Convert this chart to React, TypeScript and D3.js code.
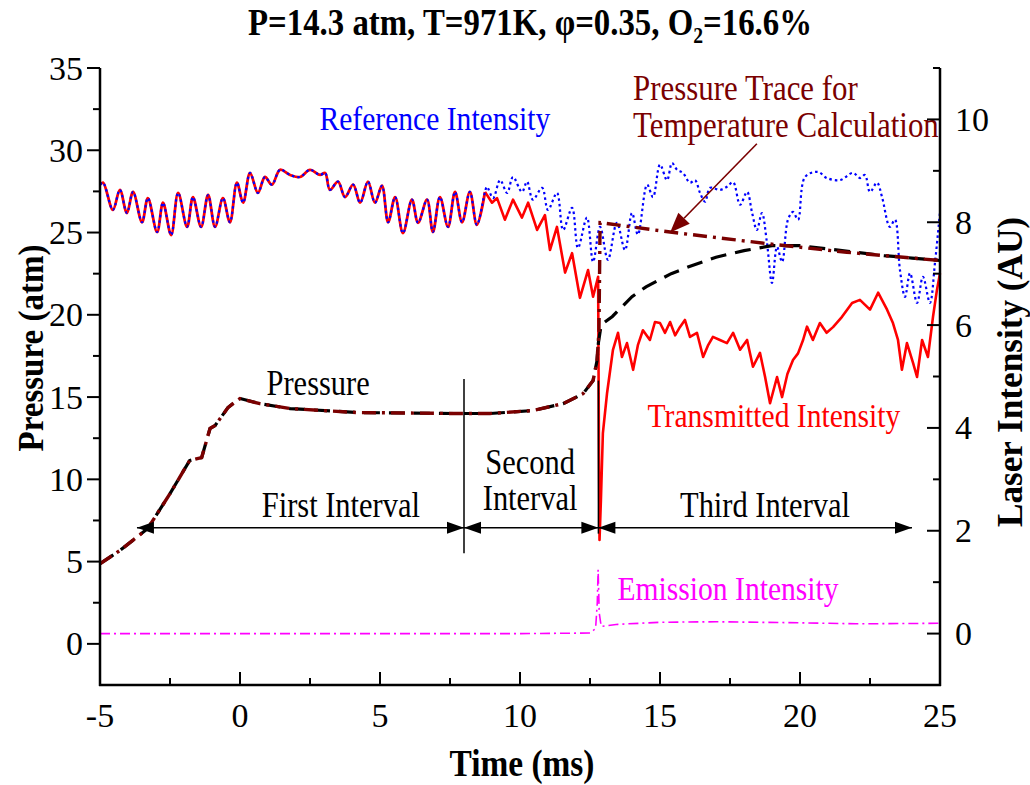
import React from 'react';
import * as d3 from 'd3';

// ---------------- DATA ----------------
// Laser intensity (AU) shared by reference and transmitted signals before they diverge
const sharedTime = [-5, -4.89, -4.54, -4.29, -4.04, -3.82, -3.5, -3.29, -2.96, -2.75, -2.46, -2.21, -1.89, -1.68, -1.39, -1.14, -0.89, -0.61, -0.36, -0.11, 0.11, 0.36, 0.64, 0.89, 1.14, 1.43, 1.79, 2.14, 2.5, 2.86, 3.04, 3.21, 3.5, 3.75, 4.04, 4.29, 4.57, 4.82, 5.07, 5.29, 5.54, 5.82, 6.14, 6.36, 6.68, 6.89, 7.14, 7.43, 7.68, 7.93, 8.21, 8.46, 8.75];
const sharedIntensity = [8.73, 8.77, 8.24, 8.63, 8.18, 8.59, 8.0, 8.47, 7.81, 8.38, 7.75, 8.57, 7.91, 8.49, 7.91, 8.53, 7.91, 8.47, 8.0, 8.77, 8.38, 8.96, 8.57, 8.88, 8.73, 9.02, 8.92, 8.88, 9.02, 8.92, 8.96, 8.63, 8.79, 8.49, 8.73, 8.38, 8.79, 8.38, 8.71, 8.0, 8.49, 7.79, 8.44, 7.99, 8.44, 7.81, 8.49, 7.91, 8.59, 8.0, 8.59, 7.95, 8.59];

// Transmitted intensity after divergence
const transmittedTime = [8.75, 9.0, 9.18, 9.46, 9.75, 10.07, 10.29, 10.61, 10.89, 11.07, 11.32, 11.61, 11.86, 12.14, 12.43, 12.61, 12.79, 12.82, 12.84, 12.89, 12.96, 13.11, 13.32, 13.5, 13.64, 13.82, 14.04, 14.21, 14.39, 14.64, 14.82, 15.0, 15.18, 15.36, 15.54, 15.71, 15.89, 16.07, 16.32, 16.54, 16.71, 16.89, 17.14, 17.39, 17.61, 17.86, 18.11, 18.32, 18.57, 18.75, 18.93, 19.18, 19.36, 19.55, 19.75, 19.93, 20.11, 20.25, 20.46, 20.71, 20.95, 21.18, 21.5, 21.86, 22.14, 22.5, 22.79, 23.11, 23.32, 23.5, 23.64, 23.82, 24.04, 24.18, 24.36, 24.57, 24.75, 24.89, 25.0];
const transmittedIntensity = [8.59, 8.38, 8.47, 8.05, 8.44, 8.09, 8.38, 7.85, 8.14, 7.46, 7.91, 7.02, 7.4, 6.53, 7.07, 6.55, 6.94, 3.57, 1.82, 2.6, 3.9, 4.68, 5.52, 5.85, 5.38, 5.65, 5.13, 5.61, 5.9, 5.71, 6.06, 6.04, 5.85, 6.06, 5.8, 5.96, 6.1, 5.77, 5.85, 5.38, 5.6, 5.77, 5.71, 5.65, 5.85, 5.52, 5.71, 5.19, 5.46, 5.0, 4.48, 4.99, 4.6, 5.05, 5.32, 5.45, 5.71, 5.97, 5.71, 6.04, 5.85, 5.96, 6.16, 6.43, 6.49, 6.3, 6.63, 6.3, 6.04, 5.71, 5.13, 5.65, 5.26, 4.99, 5.71, 5.38, 6.16, 6.68, 7.01];

// Reference intensity after divergence
const referenceTime = [8.82, 9.04, 9.29, 9.54, 9.75, 10.07, 10.25, 10.46, 10.79, 11.0, 11.32, 11.54, 11.86, 12.07, 12.39, 12.61, 12.86, 13.14, 13.46, 13.75, 14.0, 14.21, 14.54, 14.75, 15.0, 15.25, 15.43, 15.61, 15.82, 16.07, 16.25, 16.43, 16.61, 16.79, 17.14, 17.39, 17.61, 17.86, 18.11, 18.29, 18.46, 18.64, 18.82, 19.0, 19.18, 19.36, 19.57, 19.75, 19.93, 20.18, 20.64, 20.96, 21.43, 21.89, 22.14, 22.32, 22.5, 22.75, 22.93, 23.21, 23.39, 23.57, 23.75, 23.93, 24.18, 24.39, 24.64, 24.82, 25.0];
const referenceIntensity = [8.69, 8.47, 8.82, 8.57, 8.88, 8.59, 8.79, 8.44, 8.67, 8.24, 8.57, 7.85, 8.28, 7.5, 8.09, 7.23, 7.91, 7.27, 7.99, 7.46, 8.18, 7.76, 8.73, 8.49, 9.12, 8.82, 9.15, 9.02, 8.96, 8.77, 8.82, 8.57, 8.4, 8.67, 8.63, 8.69, 8.78, 8.34, 8.59, 8.18, 7.85, 8.18, 7.6, 6.82, 7.52, 7.23, 8.05, 8.2, 8.05, 8.88, 8.98, 8.86, 8.82, 8.96, 8.86, 8.92, 8.59, 8.77, 8.49, 7.91, 8.05, 7.07, 6.55, 7.01, 6.43, 6.94, 6.43, 7.21, 8.2];

// Emission intensity (AU)
const emissionTime = [-5, 0, 5, 10, 12.5, 12.7, 12.76, 12.79, 12.83, 12.9, 13.5, 15, 17, 20, 22, 25];
const emissionIntensity = [0.0, 0.0, 0.0, 0.0, 0.01, 0.1, 0.6, 1.24, 0.4, 0.14, 0.18, 0.22, 0.23, 0.21, 0.19, 0.2];

// Measured pressure (atm)
const pressureTime = [-5, -4.3, -3.3, -2.5, -1.8, -1.37, -1.07, -0.89, -0.43, -0.11, 0, 0.71, 1.79, 4.18, 7.75, 8.93, 10.46, 11.54, 12.25, 12.61, 12.75, 12.8, 12.9, 13.3, 14.0, 14.5, 15.4, 16.0, 17.0, 18.0, 19.0, 20.0, 21.0, 22.0, 23.0, 24.0, 25.0];
const pressureMeasured = [4.87, 5.66, 7.0, 9.13, 11.14, 11.32, 13.09, 13.27, 14.36, 14.79, 14.91, 14.6, 14.3, 14.06, 14.0, 14.0, 14.18, 14.6, 15.2, 16.0, 17.2, 18.3, 19.4, 19.9, 21.1, 21.7, 22.5, 22.9, 23.5, 23.9, 24.2, 24.2, 24.0, 23.8, 23.6, 23.45, 23.3];

// Pressure trace for temperature calculation (atm)
const calcTime = [-5, -4.3, -3.3, -2.5, -1.8, -1.37, -1.07, -0.89, -0.43, -0.11, 0, 0.71, 1.79, 4.18, 7.75, 8.93, 10.46, 11.54, 12.25, 12.61, 12.75, 12.82, 12.86, 15.36, 18.8, 21.67, 25.0];
const pressureCalc = [4.87, 5.66, 7.0, 9.13, 11.14, 11.32, 13.09, 13.27, 14.36, 14.79, 14.91, 14.6, 14.3, 14.06, 14.0, 14.0, 14.18, 14.6, 15.2, 16.0, 17.2, 19.0, 25.6, 25.03, 24.33, 23.8, 23.3];

// Axes ticks
const xTicks = [-5, 0, 5, 10, 15, 20, 25];
const xMinor = [-2.5, 2.5, 7.5, 12.5, 17.5, 22.5];
const leftTicks = [0, 5, 10, 15, 20, 25, 30, 35];
const leftMinor = [2.5, 7.5, 12.5, 17.5, 22.5, 27.5, 32.5];
const rightTicks = [0, 2, 4, 6, 8, 10];
const rightMinor = [-1, 1, 3, 5, 7, 9, 11];

// Interval boundaries (ms)
const intervalStart = -3.68;
const intervalB1 = 8.0;
const intervalB2 = 12.8;
const intervalEnd = 24.0;

const FONT = "'Liberation Serif','Times New Roman',Times,serif";

const zip = (a: number[], b: number[]) => a.map((v, i) => [v, b[i]] as [number, number]);

// horizontally condensed text (the reference's serif text is slightly narrow)
function SText(props: { x: number; y: number; size: number; sx?: number; anchor?: string; fill?: string; children: React.ReactNode }) {
  const { x, y, size, sx = 0.87, anchor = 'middle', fill = '#000', children } = props;
  return (
    <g transform={`translate(${x},${y}) scale(${sx},1)`}>
      <text x={0} y={0} fontSize={size} textAnchor={anchor as any} fill={fill}>{children}</text>
    </g>
  );
}

export default function App() {
  const L = 100, R = 940, T = 68, B = 685;
  const x = d3.scaleLinear().domain([-5, 25]).range([L, R]);
  const yL = d3.scaleLinear().domain([-2.5, 35]).range([B, T]);
  const yR = d3.scaleLinear().domain([-1, 11]).range([B, T]);

  const lineL = d3.line<[number, number]>().x(d => x(d[0])).y(d => yL(d[1]));
  const lineR = d3.line<[number, number]>().x(d => x(d[0])).y(d => yR(d[1]));
  const lineRSmooth = d3.line<[number, number]>().x(d => x(d[0])).y(d => yR(d[1])).curve(d3.curveCatmullRom.alpha(0.5));

  const shared = zip(sharedTime, sharedIntensity);
  const transmittedLate = zip(transmittedTime, transmittedIntensity);
  const reference = [...shared, ...zip(referenceTime, referenceIntensity)];
  const emission = zip(emissionTime, emissionIntensity);
  const measured = zip(pressureTime, pressureMeasured);
  const calc = zip(calcTime, pressureCalc);

  const arrowY = yL(7.05);
  const head = (tx: number, ty: number, dir: number, len = 17, hw = 6) =>
    `${tx},${ty} ${tx - dir * len},${ty - hw} ${tx - dir * len},${ty + hw}`;

  // pointer arrow for the calculation trace
  const p0 = [x(18.46), yL(30.4)];
  const p1 = [x(15.36), yL(25.0)];
  const ang = Math.atan2(p1[1] - p0[1], p1[0] - p0[0]);
  const hl = 20, hwid = 8;
  const bx = p1[0] - hl * Math.cos(ang), by = p1[1] - hl * Math.sin(ang);
  const ptrHead = `${p1[0]},${p1[1]} ${bx + hwid * Math.sin(ang)},${by - hwid * Math.cos(ang)} ${bx - hwid * Math.sin(ang)},${by + hwid * Math.cos(ang)}`;

  return (
    <svg width={1030} height={785} style={{ position: 'absolute', left: 0, top: 0, background: '#fff' }} fontFamily={FONT}>
      <rect x={0} y={0} width={1030} height={785} fill="#fff" />
      {/* Title */}
      <text x={530} y={35} textAnchor="middle" fontSize={38} fontWeight="bold" textLength={564} lengthAdjust="spacingAndGlyphs">
        {'P=14.3 atm, T=971K, \u03C6=0.35, O\u2082=16.6%'}
      </text>

      {/* Data lines */}
      <path d={lineR(emission) || ''} fill="none" stroke="#ff00ff" strokeWidth={1.6} strokeDasharray="10,4,2,4" />
      <path d={lineRSmooth(shared) || ''} fill="none" stroke="#ff0000" strokeWidth={2.8} strokeLinejoin="round" />
      <path d={lineR(transmittedLate) || ''} fill="none" stroke="#ff0000" strokeWidth={2.6} strokeLinejoin="round" />
      <path d={lineRSmooth(reference) || ''} fill="none" stroke="#0000ff" strokeWidth={2.2} strokeDasharray="2.5,3" />
      <path d={lineL(measured) || ''} fill="none" stroke="#000" strokeWidth={3.2} strokeDasharray="16,9" />
      <path d={lineL(calc) || ''} fill="none" stroke="#7a0000" strokeWidth={3.4} strokeDasharray="14,6,3,6" />

      {/* Interval markers */}
      <line x1={x(intervalB1)} x2={x(intervalB1)} y1={yL(16.1)} y2={yL(5.5)} stroke="#000" strokeWidth={1.5} />
      <line x1={x(intervalB2)} x2={x(intervalB2)} y1={yL(16.0)} y2={yL(6.7)} stroke="#000" strokeWidth={1.5} />
      <line x1={x(intervalStart)} x2={x(intervalEnd)} y1={arrowY} y2={arrowY} stroke="#000" strokeWidth={1.5} />
      <polygon points={head(x(intervalStart), arrowY, -1)} fill="#000" />
      <polygon points={head(x(intervalB1), arrowY, 1)} fill="#000" />
      <polygon points={head(x(intervalB1), arrowY, -1)} fill="#000" />
      <polygon points={head(x(intervalB2), arrowY, 1)} fill="#000" />
      <polygon points={head(x(intervalB2), arrowY, -1)} fill="#000" />
      <polygon points={head(x(intervalEnd), arrowY, 1)} fill="#000" />

      {/* Pointer arrow */}
      <line x1={p0[0]} y1={p0[1]} x2={bx} y2={by} stroke="#7a0000" strokeWidth={1.6} />
      <polygon points={ptrHead} fill="#7a0000" />

      {/* Annotations */}
      <SText x={x(2.79)} y={yL(15.1)} size={35}>Pressure</SText>
      <SText x={x(3.6)} y={yL(7.73)} size={35}>First Interval</SText>
      <SText x={x(10.36)} y={yL(10.35)} size={35}>Second</SText>
      <SText x={x(10.36)} y={yL(8.16)} size={35}>Interval</SText>
      <SText x={x(18.75)} y={yL(7.73)} size={35}>Third Interval</SText>
      <SText x={x(6.96)} y={yR(9.8)} size={34} fill="#0000ff">Reference Intensity</SText>
      <SText x={x(19.07)} y={yR(4.01)} size={34} fill="#ff0000">Transmitted Intensity</SText>
      <SText x={x(17.43)} y={yR(0.65)} size={34} fill="#ff00ff">Emission Intensity</SText>
      <SText x={x(14.04)} y={100} size={35.5} anchor="start" fill="#7a0000">Pressure Trace for</SText>
      <SText x={x(14.04)} y={137} size={35.5} anchor="start" fill="#7a0000">Temperature Calculation</SText>

      {/* Axes */}
      <g stroke="#000" strokeWidth={2.5}>
        <line x1={L} x2={L} y1={T} y2={B + 1} />
        <line x1={R} x2={R} y1={T} y2={B + 1} />
        <line x1={L - 1} x2={R + 1} y1={B} y2={B} />
      </g>
      <g stroke="#000" strokeWidth={2}>
        {xTicks.map(t => <line key={'xt' + t} x1={x(t)} x2={x(t)} y1={B} y2={B - 13} />)}
        {xMinor.map(t => <line key={'xm' + t} x1={x(t)} x2={x(t)} y1={B} y2={B - 7} />)}
        {leftTicks.map(t => <line key={'lt' + t} x1={L} x2={L - 13} y1={yL(t)} y2={yL(t)} />)}
        {leftMinor.map(t => <line key={'lm' + t} x1={L} x2={L - 7} y1={yL(t)} y2={yL(t)} />)}
        {rightTicks.map(t => <line key={'rt' + t} x1={R} x2={R - 13} y1={yR(t)} y2={yR(t)} />)}
        {rightMinor.map(t => <line key={'rm' + t} x1={R} x2={R - 7} y1={yR(t)} y2={yR(t)} />)}
      </g>
      <g fontSize={34} fill="#000">
        {xTicks.map(t => <text key={'xl' + t} x={x(t)} y={727} textAnchor="middle">{t}</text>)}
        {leftTicks.map(t => <text key={'ll' + t} x={83} y={yL(t)} dy="0.34em" textAnchor="end">{t}</text>)}
        {rightTicks.map(t => <text key={'rl' + t} x={955} y={yR(t)} dy="0.34em" textAnchor="start">{t}</text>)}
      </g>
      <text x={522} y={776} textAnchor="middle" fontSize={37} fontWeight="bold" textLength={145} lengthAdjust="spacingAndGlyphs">Time (ms)</text>
      <text transform="translate(43,348) rotate(-90)" textAnchor="middle" fontSize={35} fontWeight="bold" textLength={207} lengthAdjust="spacingAndGlyphs">Pressure (atm)</text>
      <text transform="translate(1022,372) rotate(-90)" textAnchor="middle" fontSize={35} fontWeight="bold" textLength={310} lengthAdjust="spacingAndGlyphs">Laser Intensity (AU)</text>
    </svg>
  );
}
